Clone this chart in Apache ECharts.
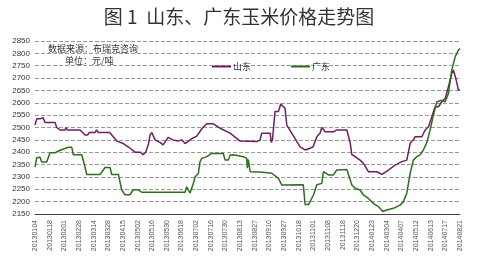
<!DOCTYPE html>
<html><head><meta charset="utf-8">
<script src="https://cdn.jsdelivr.net/npm/echarts@6/dist/echarts.min.js"></script>
<style>html,body{margin:0;padding:0;background:#fff}#c{width:478px;height:263px}</style>
</head><body><div id="c"></div>
<script>
var dateLabels = ['20130104','20130118','20130201','20130228','20130314','20130328','20130415','20130502','20130516','20130530','20130618','20130702','20130716','20130730','20130813','20130827','20130910','20130927','20131018','20131101','20131108','20131118','20131220','20140123','20140304','20140407','20140512','20140613','20140717','20140821'];
var seriesNames = ['山东','广东'];
// [position along date axis (label index), price 元/吨]
var shandong = [[0,2510],[0.12,2535],[0.35,2535],[0.46,2542],[0.55,2540],[0.68,2520],[1.37,2520],[1.48,2500],[1.6,2500],[1.71,2490],[2.05,2490],[2.12,2500],[2.2,2490],[3.07,2490],[3.25,2480],[3.41,2470],[3.6,2470],[3.7,2480],[4.1,2480],[4.2,2490],[4.3,2480],[5.1,2480],[5.24,2470],[5.58,2445],[6.03,2435],[6.4,2420],[6.83,2400],[7.2,2400],[7.37,2390],[7.55,2400],[7.73,2430],[7.85,2470],[7.97,2480],[8.1,2475],[8.19,2450],[8.53,2440],[8.74,2430],[9.08,2460],[9.42,2450],[9.76,2445],[10.01,2450],[10.24,2435],[10.7,2455],[11.04,2465],[11.38,2495],[11.72,2515],[12.17,2515],[12.63,2497],[13.31,2477],[13.99,2445],[15.13,2443],[15.36,2450],[15.47,2477],[16.04,2477],[16.12,2440],[16.2,2450],[16.38,2565],[16.61,2565],[16.77,2595],[17.06,2578],[17.18,2510],[17.52,2477],[18.09,2422],[18.43,2409],[18.77,2416],[18.98,2422],[19.23,2463],[19.45,2477],[19.57,2500],[19.7,2500],[19.8,2483],[20.4,2483],[20.59,2490],[21.28,2490],[21.5,2440],[21.62,2390],[21.84,2382],[22.18,2368],[22.41,2355],[22.75,2321],[23.32,2321],[23.67,2310],[24.12,2328],[24.57,2348],[25.03,2362],[25.37,2368],[25.6,2436],[25.82,2450],[25.94,2463],[26.4,2463],[26.62,2490],[26.85,2503],[27.08,2544],[27.3,2584],[27.53,2584],[27.76,2604],[27.99,2618],[28.21,2665],[28.44,2719],[28.55,2733],[28.74,2692],[28.89,2652],[29,2652]];
var guangdong = [[0,2340],[0.12,2378],[0.34,2380],[0.46,2360],[0.8,2360],[1.02,2398],[1.37,2398],[1.48,2390],[1.71,2408],[2.05,2415],[2.27,2420],[2.51,2420],[2.61,2390],[3.19,2390],[3.41,2340],[3.53,2310],[4.44,2310],[4.78,2338],[5.12,2338],[5.24,2310],[5.69,2310],[5.8,2280],[5.92,2247],[6.14,2228],[6.48,2228],[6.71,2248],[7.05,2248],[7.28,2238],[10.24,2238],[10.35,2260],[10.46,2268],[10.58,2235],[10.7,2235],[10.81,2274],[10.92,2300],[11.15,2315],[11.26,2362],[11.38,2375],[11.72,2382],[12.06,2395],[12.85,2395],[12.97,2368],[13.19,2368],[13.31,2389],[13.54,2390],[13.65,2382],[14.22,2382],[14.45,2375],[14.49,2335],[14.56,2370],[14.68,2321],[15.36,2320],[16.16,2315],[16.61,2294],[16.84,2267],[18.31,2268],[18.43,2188],[18.66,2188],[19.0,2227],[19.11,2232],[19.23,2268],[19.57,2274],[19.68,2321],[19.8,2328],[20.02,2308],[20.36,2308],[20.59,2328],[21.28,2330],[21.62,2267],[21.84,2254],[22.18,2247],[22.41,2227],[22.75,2213],[23.09,2193],[23.43,2180],[23.73,2160],[24.0,2166],[24.46,2173],[24.91,2186],[25.14,2200],[25.37,2234],[25.6,2315],[25.82,2368],[26.05,2382],[26.28,2389],[26.5,2409],[26.74,2440],[26.96,2490],[27.19,2551],[27.42,2604],[27.76,2610],[27.99,2604],[28.21,2638],[28.44,2733],[28.67,2786],[28.89,2813],[29,2820]];

var chart = echarts.init(document.getElementById('c'), null, {renderer:'canvas'});
chart.setOption({
  animation:false,
  backgroundColor:'#fff',
  title:{text:'图 1  山东、广东玉米价格走势图', left:'center', top:2,
    textStyle:{fontFamily:'Noto Sans CJK SC', fontSize:19, fontWeight:'normal', color:'#333'}},
  graphic:[
    {type:'text', left:48, top:44, style:{text:'数据来源：布瑞克咨询', fontFamily:'Noto Sans CJK SC', fontSize:9, fill:'#333'}},
    {type:'text', left:65, top:56, style:{text:'单位：元/吨', fontFamily:'Noto Sans CJK SC', fontSize:9, fill:'#333'}}
  ],
  legend:{data:seriesNames, left:207, top:57, icon:'rect', itemWidth:19, itemHeight:2, itemGap:40,
    textStyle:{fontFamily:'Noto Sans CJK SC', fontSize:9, color:'#333', padding:[0,0,0,-3]}},
  grid:{left:35, right:18, top:41, bottom:49},
  xAxis:{type:'value', min:0, max:29, interval:1,
    axisLine:{show:true, lineStyle:{color:'#444', width:1}},
    axisTick:{show:false}, splitLine:{show:false},
    axisLabel:{rotate:90, fontSize:7, color:'#555', fontFamily:'Liberation Sans', margin:6,
      formatter:function(v){return dateLabels[Math.round(v)]||'';}}},
  yAxis:{type:'value', min:2150, max:2850, interval:50,
    axisLine:{show:false}, axisTick:{show:false},
    axisLabel:{fontSize:8, color:'#333', fontFamily:'Liberation Sans', margin:5,
      formatter:function(v){return String(v);}},
    splitLine:{lineStyle:{color:'#999', type:'dashed', width:1, dashOffset:0}}},
  series:[
    {name:seriesNames[0], type:'line', data:shandong, showSymbol:false, symbol:'none',
      lineStyle:{color:'#6e1f62', width:1.5}, itemStyle:{color:'#6e1f62'}},
    {name:seriesNames[1], type:'line', data:guangdong, showSymbol:false, symbol:'none',
      lineStyle:{color:'#2e6e1f', width:1.5}, itemStyle:{color:'#2e6e1f'}}
  ]
});
</script></body></html>
